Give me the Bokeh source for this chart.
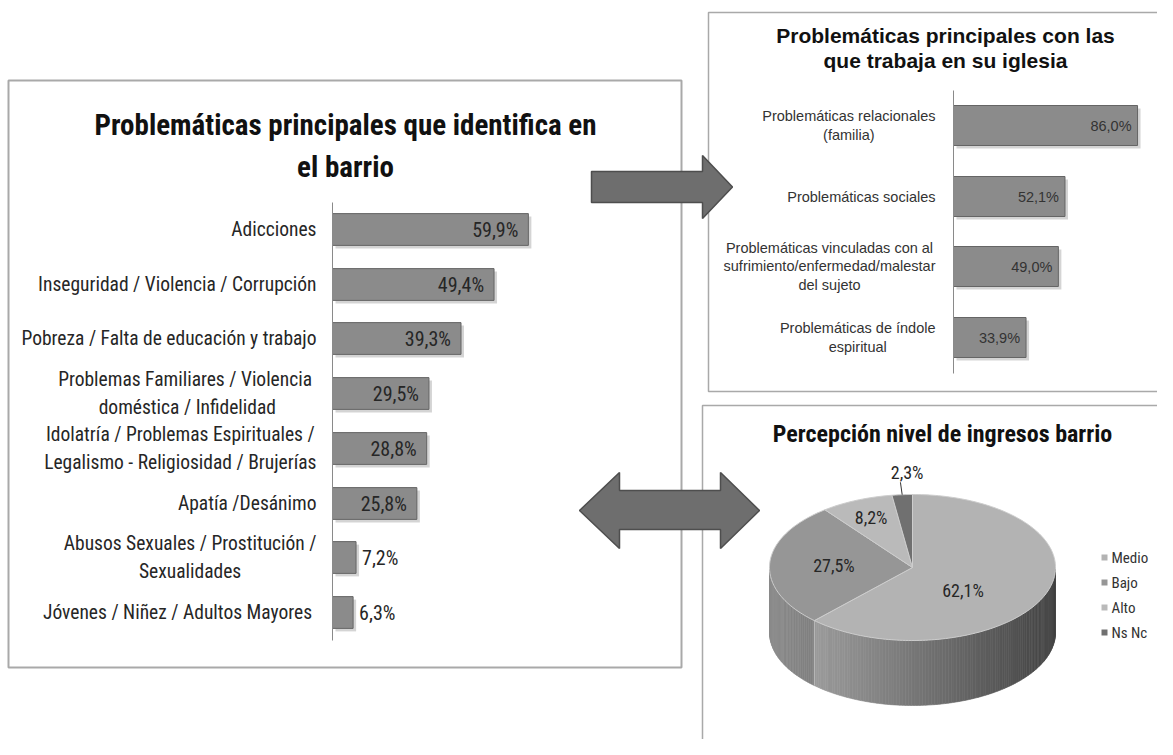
import numpy as np
from bokeh.plotting import figure
from bokeh.models import Range1d
from bokeh.core.properties import value
from bokeh.embed import file_html
from bokeh.resources import INLINE

# ---------------- data ----------------
barrio_labels = [
    "Adicciones",
    "Inseguridad / Violencia / Corrupción",
    "Pobreza / Falta de educación y trabajo",
    "Problemas Familiares  / Violencia\ndoméstica / Infidelidad",
    "Idolatría / Problemas Espirituales /\nLegalismo - Religiosidad / Brujerías",
    "Apatía /Desánimo",
    "Abusos Sexuales / Prostitución /\nSexualidades",
    "Jóvenes / Niñez  / Adultos Mayores",
]
barrio_values = [59.9, 49.4, 39.3, 29.5, 28.8, 25.8, 7.2, 6.3]

iglesia_labels = [
    "Problemáticas relacionales\n(familia)",
    "Problemáticas sociales",
    "Problemáticas vinculadas con al\nsufrimiento/enfermedad/malestar\ndel sujeto",
    "Problemáticas de índole\nespiritual",
]
iglesia_values = [86.0, 52.1, 49.0, 33.9]

ingresos_labels = ["Medio", "Bajo", "Alto", "Ns Nc"]
ingresos_values = [62.1, 27.5, 8.2, 2.3]

title_barrio = ["Problemáticas principales que identifica en", "el barrio"]
title_iglesia = ["Problemáticas principales con las", "que trabaja en su iglesia"]
title_ingresos = "Percepción nivel de ingresos barrio"

# ---------------- styles ----------------
NARROW = "Roboto Condensed"
SANS = "Liberation Sans"
BAR_FILL = "#8b8b8b"
BAR_LINE = "#656565"
SHADOW = "#cfcfcf"
BORDER = "#a9a9a9"
ARROW_FILL = "#6e6e6e"
ARROW_LINE = "#4e4e4e"
TOP_COLORS = ["#b3b3b3", "#969696", "#bababa", "#707070"]
SIDE_HI = [172, 140, 175, 110]
SIDE_LO = [68, 70, 80, 60]


def fmt(v):
    return f"{v:.1f}%".replace(".", ",")


W, H = 1157, 739
p = figure(width=W, height=H, x_range=Range1d(0, W), y_range=Range1d(H, 0),
           output_backend="svg", toolbar_location=None, min_border=0,
           x_axis_location=None, y_axis_location=None, outline_line_color=None)
p.grid.visible = False
p.background_fill_color = "white"
p.border_fill_color = "white"

# ---------------- panel frames ----------------
p.quad(left=[8], right=[681], top=[80], bottom=[667], fill_color=None,
       line_color=BORDER, line_width=2)
p.quad(left=[708], right=[1190], top=[12], bottom=[391], fill_color=None,
       line_color=BORDER, line_width=1.5)
p.quad(left=[702], right=[1190], top=[405], bottom=[770], fill_color=None,
       line_color=BORDER, line_width=1.5)

# ---------------- left bar chart ----------------
n1 = len(barrio_values)
idx1 = np.arange(n1)
sh1 = p.subplot(x_source=Range1d(0, 100), y_source=Range1d(-0.5, n1 - 0.5),
                x_target=Range1d(335, 335 + 327), y_target=Range1d(205, 643))
sh1.hbar(y=idx1, left=0, right=barrio_values, height=0.58, fill_color=SHADOW,
         line_color=None, fill_alpha=0.9)
s1 = p.subplot(x_source=Range1d(0, 100), y_source=Range1d(-0.5, n1 - 0.5),
               x_target=Range1d(332, 332 + 327), y_target=Range1d(202, 640))
s1.hbar(y=idx1, left=0, right=barrio_values, height=0.58, fill_color=BAR_FILL,
        line_color=BAR_LINE, line_width=1)
s1.segment(x0=[0], y0=[-0.5], x1=[0], y1=[n1 - 0.5], line_color="#8a8a8a", line_width=1)
s1.text(x=0, y=idx1, text=barrio_labels, x_offset=-16, anchor="center_right",
        text_align="center", text_baseline="middle", text_font=value(NARROW),
        text_font_size="19.5px", text_color="#262626", text_line_height=1.2)
v1 = np.array(barrio_values)
inside = v1 >= 10
s1.text(x=v1[inside], y=idx1[inside], text=[fmt(v) for v in v1[inside]], x_offset=-10,
        text_align="right", text_baseline="middle", text_font=value(NARROW),
        text_font_size="20px", text_color="#262626")
s1.text(x=v1[~inside], y=idx1[~inside], text=[fmt(v) for v in v1[~inside]], x_offset=6,
        text_align="left", text_baseline="middle", text_font=value(NARROW),
        text_font_size="20px", text_color="#262626")
p.text(x=[345, 345], y=[124, 166], text=title_barrio, text_align="center",
       text_baseline="middle", text_font=value(NARROW), text_font_style="bold",
       text_font_size="29px", text_color="#111111")

# ---------------- top-right bar chart ----------------
n2 = len(iglesia_values)
idx2 = np.arange(n2)
sh2 = p.subplot(x_source=Range1d(0, 100), y_source=Range1d(-0.5, n2 - 0.5),
                x_target=Range1d(956, 956 + 214), y_target=Range1d(93, 376))
sh2.hbar(y=idx2, left=0, right=iglesia_values, height=0.565, fill_color=SHADOW,
         line_color=None, fill_alpha=0.9)
s2 = p.subplot(x_source=Range1d(0, 100), y_source=Range1d(-0.5, n2 - 0.5),
               x_target=Range1d(953, 953 + 214), y_target=Range1d(90, 373))
s2.hbar(y=idx2, left=0, right=iglesia_values, height=0.565, fill_color=BAR_FILL,
        line_color=BAR_LINE, line_width=1)
s2.segment(x0=[0], y0=[-0.5], x1=[0], y1=[n2 - 0.5], line_color="#8a8a8a", line_width=1)
s2.text(x=0, y=idx2, text=iglesia_labels, x_offset=-18, anchor="center_right",
        text_align="center", text_baseline="middle", text_font=value(SANS),
        text_font_size="14.5px", text_color="#333333", text_line_height=1.15)
s2.text(x=iglesia_values, y=idx2, text=[fmt(v) for v in iglesia_values], x_offset=-6,
        text_align="right", text_baseline="middle", text_font=value(SANS),
        text_font_size="14.5px", text_color="#333333")
p.text(x=[945, 945], y=[35, 60], text=title_iglesia, text_align="center",
       text_baseline="middle", text_font=value(SANS), text_font_style="bold",
       text_font_size="21px", text_color="#111111")

# ---------------- 3D pie ----------------
cx, cy, rx, ry, depth = 912, 567, 143, 73, 65
pie = p.subplot(x_source=Range1d(-1, 1), y_source=Range1d(-1, 1),
                x_target=Range1d(cx - rx, cx + rx), y_target=Range1d(cy + ry, cy - ry))
d = depth / ry
vals = np.array(ingresos_values)
fr = vals / vals.sum()
ends = np.pi / 2 - 2 * np.pi * np.cumsum(fr)
starts = np.concatenate([[np.pi / 2], ends[:-1]])

# side walls (front half only)
sx, sy, sc = [], [], []
for k in range(len(vals)):
    a0, a1 = ends[k], starts[k]
    ts = np.linspace(a0, a1, max(3, int((a1 - a0) / 0.02)))
    for i in range(len(ts) - 1):
        t0, t1 = ts[i], ts[i + 1]
        tm = 0.5 * (t0 + t1)
        if np.sin(tm) >= 0:
            continue
        f = (1 - np.cos(tm)) / 2
        g = int(SIDE_LO[k] + (SIDE_HI[k] - SIDE_LO[k]) * f)
        sx.append([np.cos(t0), np.cos(t1), np.cos(t1), np.cos(t0)])
        sy.append([np.sin(t0), np.sin(t1), np.sin(t1) - d, np.sin(t0) - d])
        sc.append(f"#{g:02x}{g:02x}{g:02x}")
pie.patches(xs=sx, ys=sy, fill_color=sc, line_color=sc, line_width=0.6)
for a in np.concatenate([[starts[0]], ends]):
    if np.sin(a) < 0:
        pie.segment(x0=[np.cos(a)], y0=[np.sin(a)], x1=[np.cos(a)], y1=[np.sin(a) - d],
                    line_color="#bdbdbd", line_width=1)

# top face
txs, tys = [], []
for k in range(len(vals)):
    ts = np.linspace(starts[k], ends[k], max(3, int((starts[k] - ends[k]) / 0.02)))
    txs.append(np.concatenate([[0], np.cos(ts)]))
    tys.append(np.concatenate([[0], np.sin(ts)]))
pie.patches(xs=txs, ys=tys, fill_color=TOP_COLORS, line_color="#cdcdcd", line_width=1)

# labels
mids = 0.5 * (starts + ends)
lab_r = [0.38, 0.55, 0.74, 1.3]
lab_dx = [0, 0, 0, 8]
lab_dy = [13, 0, 0, 0]
pie.text(x=np.cos(mids) * lab_r, y=np.sin(mids) * lab_r, x_offset=lab_dx, y_offset=lab_dy,
         text=[fmt(v) for v in vals], text_align="center", text_baseline="middle",
         text_font=value(NARROW), text_font_size="18px", text_color="#262626")
k_out = len(vals) - 1
pie.segment(x0=[np.cos(mids[k_out]) * 1.0], y0=[np.sin(mids[k_out]) * 1.0],
            x1=[np.cos(mids[k_out]) * 1.17], y1=[np.sin(mids[k_out]) * 1.17],
            line_color="#333333", line_width=1)
p.text(x=[942], y=[433], text=[title_ingresos], text_align="center", text_baseline="middle",
       text_font=value(NARROW), text_font_style="bold", text_font_size="24px",
       text_color="#111111")

# legend
leg_y = [557, 582, 607, 632]
p.scatter(x=[1104] * 4, y=leg_y, marker="square", size=6, fill_color=TOP_COLORS,
          line_color=None)
p.text(x=[1111] * 4, y=leg_y, text=ingresos_labels, text_align="left", text_baseline="middle",
       text_font=value(NARROW), text_font_size="15px", text_color="#333333")

# ---------------- arrows ----------------
p.patch(x=[591, 702, 702, 732, 702, 702, 591],
        y=[171, 171, 155, 186.5, 218, 202, 202],
        fill_color=ARROW_FILL, line_color=ARROW_LINE, line_width=1.5)
p.patch(x=[579, 619, 619, 720, 720, 759, 720, 720, 619, 619],
        y=[510, 472, 490, 490, 472, 510, 548, 529, 529, 548],
        fill_color=ARROW_FILL, line_color=ARROW_LINE, line_width=1.5)

open("out.html", "w").write(file_html(p, INLINE))
